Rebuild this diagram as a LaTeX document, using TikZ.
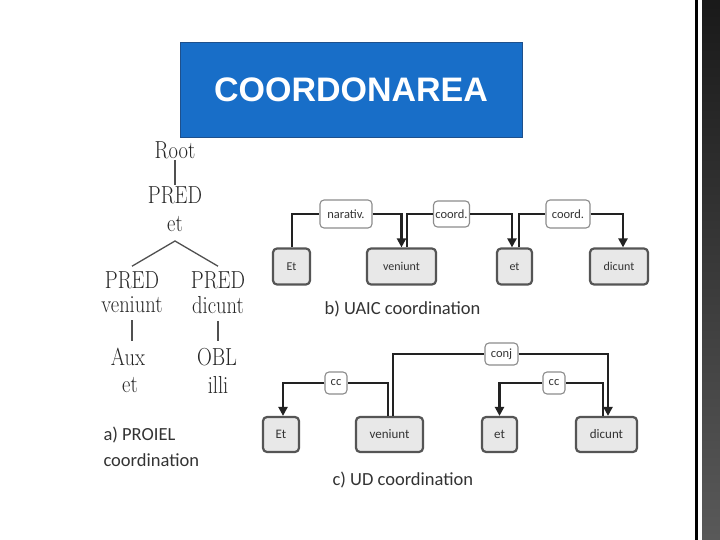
\documentclass[tikz,border=0pt]{standalone}
\usepackage{fontspec}
\usetikzlibrary{arrows.meta,positioning}
\newfontfamily\carlito{Carlito}
\newfontfamily\titlefont{Liberation Sans}
\definecolor{titleblue}{RGB}{24,110,200}
\definecolor{titleedge}{RGB}{30,80,140}
\definecolor{boxfill}{RGB}{232,232,232}
\definecolor{boxedge}{RGB}{85,85,85}
\definecolor{reledge}{RGB}{140,140,140}
\definecolor{linedark}{RGB}{34,34,34}
\definecolor{treegray}{RGB}{80,80,80}
\definecolor{captext}{RGB}{51,51,51}
\newcommand{\tw}[1]{\scalebox{1}[1.2]{#1}}

\begin{document}
\begin{tikzpicture}[
    x=1pt, y=-1pt,
    titlebox/.style={rectangle, draw=titleedge, line width=0.8pt, fill=titleblue, minimum width=342pt, minimum height=95pt, text=white, font=\titlefont\bfseries\fontsize{34}{36}\selectfont},
    trw/.style={inner sep=1pt, text=black!85, font=\fontsize{20.5}{22}\selectfont},
    branch/.style={draw=treegray, line width=1.3pt},
    tok/.style={rectangle, draw=boxedge, line width=2.2pt, fill=boxfill, rounded corners=4pt, minimum height=36pt, inner sep=0pt, text=captext, font=\carlito\fontsize{12}{14}\selectfont},
    rel/.style={rectangle, draw=reledge, line width=1.1pt, fill=white, rounded corners=4pt, minimum height=26pt, inner sep=0pt, text=captext, font=\carlito\fontsize{12.5}{14}\selectfont},
    edge/.style={draw=linedark, line width=2.4pt},
    dep/.style={edge, -{Triangle[width=9pt,length=9pt]}},
    caption/.style={anchor=west, align=left, text=captext, font=\carlito\fontsize{18.5}{26}\selectfont}
]

\fill[white] (0,0) rectangle (720,540);
\useasboundingbox (0,0) rectangle (720,540);

% side strip
\fill[black] (695,0) rectangle (698,540);
\shade[top color=black!90, bottom color=black!65] (702,0) rectangle (720,540);

% Title
\node[titlebox] (title) at (351,89.5) {COORDONAREA};

% a) PROIEL tree
\node[trw] (root) at (175,150) {\tw{Root}};
\node[trw] (pred) at (175,195) {\tw{PRED}};
\node[trw] (predet) at (175,224) {\tw{et}};
\node[trw] (lpred) at (132,280) {\tw{PRED}};
\node[trw] (lveniunt) at (132,305) {\tw{veniunt}};
\node[trw] (aux) at (128,357) {\tw{Aux}};
\node[trw] (auxet) at (130,385) {\tw{et}};
\node[trw] (rpred) at (218,280) {\tw{PRED}};
\node[trw] (rdicunt) at (218,305) {\tw{dicunt}};
\node[trw] (obl) at (217,357) {\tw{OBL}};
\node[trw] (illi) at (218,385) {\tw{illi}};
\coordinate (apex) at (175,241);

\draw[branch] (root) -- (pred);
\draw[branch] ([yshift=4pt]lpred.north) -- (apex) -- ([yshift=4pt]rpred.north);
\draw[branch, shorten <=6pt, shorten >=6pt] (lveniunt.south) -- (lveniunt.south |- aux.north);
\draw[branch, shorten <=6pt, shorten >=6pt] (rdicunt.south) -- (rdicunt.south |- obl.north);

\node[caption] (capa) at (100,447) {a) PROIEL\\coordination};

% b) UAIC
\node[tok, minimum width=37pt] (uEt) at (291.5,266.5) {Et};
\node[tok, minimum width=69pt] (uveniunt) at (401.5,266.5) {veniunt};
\node[tok, minimum width=35pt] (uet) at (514.5,266.5) {et};
\node[tok, minimum width=58pt] (udicunt) at (619,266.5) {dicunt};

\node[rel, minimum width=52pt, minimum height=28pt] (unar) at (346,214) {narativ.};
\node[rel, minimum width=36pt] (ucoorda) at (451.5,214) {coord.};
\node[rel, minimum width=44pt, minimum height=28pt] (ucoordb) at (568,214) {coord.};

\draw[edge] ([xshift=0.5pt]uEt.north) |- (unar.west);
\draw[dep] (unar.east) -| (uveniunt.north);
\draw[edge] ([xshift=5.5pt]uveniunt.north) |- (ucoorda.west);
\draw[dep] (ucoorda.east) -| ([xshift=-2.5pt]uet.north);
\draw[edge] ([xshift=4.5pt]uet.north) |- (ucoordb.west);
\draw[dep] (ucoordb.east) -| ([xshift=4pt]udicunt.north);

\node[caption] (capb) at (321,309) {b) UAIC coordination};

% c) UD
\node[tok, minimum width=36pt, minimum height=35pt, font=\carlito\fontsize{13}{15}\selectfont] (dEt) at (281,434.5) {Et};
\node[tok, minimum width=67pt, minimum height=35pt, font=\carlito\fontsize{13}{15}\selectfont] (dveniunt) at (389.5,434.5) {veniunt};
\node[tok, minimum width=35pt, minimum height=35pt, font=\carlito\fontsize{13}{15}\selectfont] (det) at (499.5,434.5) {et};
\node[tok, minimum width=61pt, minimum height=35pt, font=\carlito\fontsize{13}{15}\selectfont] (ddicunt) at (606.5,434.5) {dicunt};

\node[rel, minimum width=33pt, minimum height=22pt, font=\carlito\fontsize{12.5}{14}\selectfont] (dconj) at (501.5,354) {conj};
\node[rel, minimum width=22pt, minimum height=22pt, font=\carlito\fontsize{12.5}{14}\selectfont] (dcca) at (336,383) {cc};
\node[rel, minimum width=22pt, minimum height=22pt, font=\carlito\fontsize{12.5}{14}\selectfont] (dccb) at (554,383) {cc};

\draw[edge] ([xshift=3.5pt]dveniunt.north) |- (dconj.west);
\draw[dep] (dconj.east) -| ([xshift=1.5pt]ddicunt.north);
\draw[edge] ([xshift=-1.5pt]dveniunt.north) |- (dcca.east);
\draw[dep] (dcca.west) -| ([xshift=2pt]dEt.north);
\draw[edge] ([xshift=-3.5pt]ddicunt.north) |- (dccb.east);
\draw[dep] (dccb.west) -| (det.north);

\node[caption] (capc) at (329,480) {c) UD coordination};

\end{tikzpicture}
\end{document}
